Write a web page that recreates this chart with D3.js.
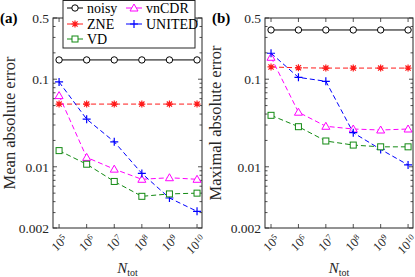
<!DOCTYPE html>
<html>
<head>
<meta charset="utf-8">
<script src="https://cdn.jsdelivr.net/npm/d3@7"></script>
<style>
body { margin: 0; background: #fff; }
</style>
</head>
<body>
<script>
var w = 415;
var h = 277;

// exponents of N_tot
var nExp = [5, 6, 7, 8, 9, 10];
var yTicks = [0.002, 0.01, 0.1, 0.5];
var yTickLabels = ["0.002", "0.01", "0.1", "0.5"];

// panel (a): mean absolute error
var meanNoisy  = [0.166, 0.166, 0.166, 0.166, 0.166, 0.166];
var meanZNE    = [0.052, 0.052, 0.052, 0.052, 0.052, 0.052];
var meanVnCDR  = [0.065, 0.0128, 0.0094, 0.0072, 0.0075, 0.0072];
var meanUNITED = [0.093, 0.035, 0.0193, 0.0084, 0.0044, 0.0031];
var meanVD     = [0.0153, 0.0107, 0.0068, 0.0046, 0.0049, 0.0050];

// panel (b): maximal absolute error
var maxNoisy  = [0.365, 0.365, 0.365, 0.365, 0.365, 0.365];
var maxZNE    = [0.138, 0.135, 0.134, 0.134, 0.134, 0.134];
var maxVnCDR  = [0.178, 0.042, 0.029, 0.027, 0.0263, 0.027];
var maxUNITED = [0.198, 0.105, 0.0947, 0.0245, 0.0158, 0.0105];
var maxVD     = [0.0387, 0.0287, 0.0197, 0.0177, 0.0169, 0.0169];

var seriesNames = ["noisy", "ZNE", "VD", "vnCDR", "UNITED"];
var colors = {noisy: "#000000", ZNE: "#ff1a1a", VD: "#138a13", vnCDR: "#ff00ff", UNITED: "#0000ff"};
var markers = {noisy: "circle", ZNE: "star", VD: "square", vnCDR: "triangle", UNITED: "plus"};
var dashed = {noisy: false, ZNE: true, VD: true, vnCDR: true, UNITED: true};

var FONT = "Liberation Serif";

var svg = d3.select("body").append("svg").attr("width", w).attr("height", h)
    .style("font-family", FONT);

function drawMarker(g, type, x, y, color) {
    if (type == "circle") {
        g.append("circle").attr("cx", x).attr("cy", y).attr("r", 3.2)
            .style("fill", "white").style("stroke", color).style("stroke-width", 1);
    } else if (type == "square") {
        g.append("rect").attr("x", x - 3).attr("y", y - 3).attr("width", 6).attr("height", 6)
            .style("fill", "white").style("stroke", color).style("stroke-width", 1);
    } else if (type == "triangle") {
        g.append("path").attr("d", "M" + x + "," + (y - 4) + "L" + (x + 4) + "," + (y + 3) + "L" + (x - 4) + "," + (y + 3) + "Z")
            .style("fill", "white").style("stroke", color).style("stroke-width", 1);
    } else if (type == "plus") {
        g.append("path").attr("d", "M" + (x - 4) + "," + y + "H" + (x + 4) + "M" + x + "," + (y - 4) + "V" + (y + 4))
            .style("stroke", color).style("stroke-width", 1.2);
    } else if (type == "star") {
        var p = "M" + (x - 3.5) + "," + y + "H" + (x + 3.5) + "M" + x + "," + (y - 3.5) + "V" + (y + 3.5)
            + "M" + (x - 2.6) + "," + (y - 2.6) + "L" + (x + 2.6) + "," + (y + 2.6)
            + "M" + (x - 2.6) + "," + (y + 2.6) + "L" + (x + 2.6) + "," + (y - 2.6);
        g.append("path").attr("d", p).style("stroke", color).style("stroke-width", 1.2);
    }
}

function drawPanel(left, right, label, ylabel, ylabelX, data) {
    var top = 18, bottom = 228;
    var x = d3.scaleLinear().domain([4.78, 10.18]).range([left, right]);
    var y = d3.scaleLog().domain([0.002, 0.5]).range([bottom, top]);
    var g = svg.append("g");

    // minor + major ticks on left and right sides
    var minor = [];
    [0.001, 0.01, 0.1].forEach(function(d) {
        for (var k = 1; k < 10; k++) {
            var v = d * k;
            if (v >= 0.002 && v <= 0.5 + 1e-9) minor.push(v);
        }
    });
    minor.forEach(function(v) {
        var major = yTicks.some(function(t) { return Math.abs(t - v) < 1e-9; });
        var len = major ? 4 : 2.5;
        g.append("line").attr("x1", left).attr("x2", left + len).attr("y1", y(v)).attr("y2", y(v))
            .style("stroke", "#262626").style("stroke-width", 0.8);
        g.append("line").attr("x1", right).attr("x2", right - len).attr("y1", y(v)).attr("y2", y(v))
            .style("stroke", "#262626").style("stroke-width", 0.8);
    });
    nExp.forEach(function(e) {
        g.append("line").attr("x1", x(e)).attr("x2", x(e)).attr("y1", bottom).attr("y2", bottom - 4)
            .style("stroke", "#262626").style("stroke-width", 0.8);
        g.append("line").attr("x1", x(e)).attr("x2", x(e)).attr("y1", top).attr("y2", top + 4)
            .style("stroke", "#262626").style("stroke-width", 0.8);
    });

    // y tick labels
    yTicks.forEach(function(v, i) {
        g.append("text").attr("x", left - 4).attr("y", y(v)).attr("dy", "0.35em")
            .attr("text-anchor", "end").style("font-family", FONT).style("font-size", "13.5px").style("fill", "#262626")
            .text(yTickLabels[i]);
    });

    // x tick labels, rotated
    nExp.forEach(function(e) {
        var t = g.append("text")
            .attr("transform", "translate(" + (x(e) + 3) + "," + (bottom + 6) + ") rotate(-45)")
            .attr("text-anchor", "end").attr("dy", "0.7em").style("font-family", FONT)
            .style("font-size", "12.5px").style("fill", "#262626");
        t.append("tspan").text("10");
        t.append("tspan").attr("dy", "-0.45em").style("font-size", "8.5px").text(e);
    });

    // axis label x
    var xl = g.append("text").attr("x", (left + right) / 2).attr("y", 273).style("font-family", FONT)
        .attr("text-anchor", "middle").style("font-size", "15px").style("fill", "#262626");
    xl.append("tspan").style("font-style", "italic").text("N");
    xl.append("tspan").attr("dy", "0.3em").style("font-size", "10px").text("tot");

    // axis label y
    g.append("text").attr("transform", "translate(" + ylabelX + "," + 123 + ") rotate(-90)")
        .attr("text-anchor", "middle").style("font-family", FONT).style("font-size", "16.5px").style("fill", "#262626")
        .text(ylabel);

    // panel label
    g.append("text").attr("x", left - 53).attr("y", top + 5).style("font-family", FONT).style("font-size", "15px")
        .style("font-weight", "bold").text(label);

    // series
    var line = d3.line().x(function(d, i) { return x(nExp[i]); }).y(function(d) { return y(d); });
    var order = ["noisy", "ZNE", "vnCDR", "UNITED", "VD"];
    order.forEach(function(name) {
        var vals = data[name];
        g.append("path").attr("d", line(vals)).style("fill", "none")
            .style("stroke", colors[name]).style("stroke-width", 1)
            .style("stroke-dasharray", dashed[name] ? "5,3" : null);
        vals.forEach(function(v, i) {
            drawMarker(g, markers[name], x(nExp[i]), y(v), colors[name]);
        });
    });

    // frame
    g.append("rect").attr("x", left).attr("y", top).attr("width", right - left).attr("height", bottom - top)
        .style("fill", "none").style("stroke", "#262626").style("stroke-width", 1);
}

drawPanel(53, 202, "(a)", "Mean absolute error", 15,
    {noisy: meanNoisy, ZNE: meanZNE, vnCDR: meanVnCDR, UNITED: meanUNITED, VD: meanVD});
drawPanel(265, 413, "(b)", "Maximal absolute error", 221,
    {noisy: maxNoisy, ZNE: maxZNE, vnCDR: maxVnCDR, UNITED: maxUNITED, VD: maxVD});

// legend
var lg = svg.append("g");
lg.append("rect").attr("x", 63).attr("y", 0.5).attr("width", 132).attr("height", 47.5)
    .style("fill", "white").style("stroke", "#262626").style("stroke-width", 1);
var legendPos = {
    noisy: [67, 8], ZNE: [67, 24], VD: [67, 39],
    vnCDR: [126, 8], UNITED: [126, 24]
};
seriesNames.forEach(function(name) {
    var p = legendPos[name];
    lg.append("line").attr("x1", p[0]).attr("x2", p[0] + 16).attr("y1", p[1]).attr("y2", p[1])
        .style("stroke", colors[name]).style("stroke-width", 1);
    drawMarker(lg, markers[name], p[0] + 8, p[1], colors[name]);
    lg.append("text").attr("x", p[0] + 20).attr("y", p[1]).attr("dy", "0.35em").style("font-family", FONT)
        .style("font-size", "14px").style("fill", "#000").text(name);
});
</script>
</body>
</html>
